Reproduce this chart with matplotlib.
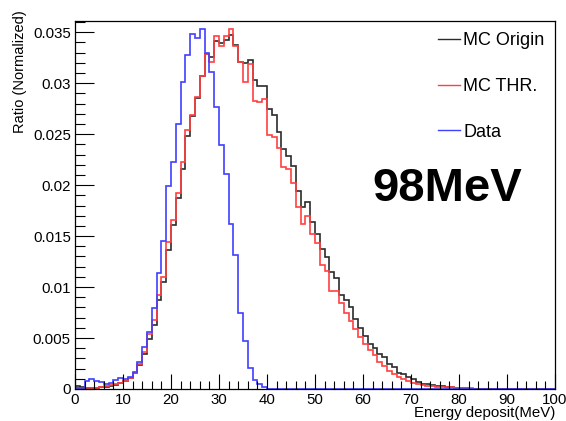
import matplotlib
matplotlib.use("Agg")
import matplotlib.pyplot as plt
import numpy as np

plt.rcParams['font.family'] = ['Liberation Sans', 'DejaVu Sans']

# bin edges: 100 bins of 1 MeV
edges = np.arange(0, 101, 1)

# values in units of 1e-3
mc_origin = [0.25, 0.2, 0.12, 0.1, 0.12, 0.15, 0.2, 0.3, 0.4, 0.55,
             0.75, 1.05, 1.6, 2.35, 3.4, 4.9, 6.3, 8.75, 10.5, 13.6,
             16.1, 18.7, 21.6, 24.8, 26.8, 28.5, 30.7, 32.9, 32.6, 34.1,
             33.9, 34.2, 34.7, 33.7, 32.1, 32.0, 32.3, 30.3, 29.7, 29.7,
             27.5, 26.9, 25.2, 23.5, 22.9, 21.9, 19.4, 17.9, 18.3, 16.4,
             15.2, 13.7, 12.9, 11.5, 10.9, 9.2, 8.75, 8.0, 6.9, 6.0,
             5.2, 4.4, 4.0, 3.4, 3.1, 2.5, 2.2, 1.6, 1.5, 1.2,
             1.0, 0.65, 0.5, 0.45, 0.35, 0.3, 0.3, 0.2, 0.15, 0.1,
             0.08, 0.05, 0, 0, 0, 0, 0, 0, 0, 0,
             0, 0, 0, 0, 0, 0, 0, 0, 0, 0]

mc_thr = [0.05, 0.05, 0.08, 0.1, 0.12, 0.2, 0.25, 0.35, 0.45, 0.6,
          0.8, 1.1, 1.6, 2.45, 3.6, 5.4, 6.8, 9.2, 11.0, 14.4,
          16.6, 19.2, 22.3, 25.4, 26.9, 28.6, 30.7, 32.9, 32.1, 34.6,
          33.6, 34.6, 35.3, 33.6, 32.1, 30.1, 31.9, 28.3, 28.2, 28.4,
          24.9, 24.7, 23.6, 21.8, 21.6, 20.2, 17.9, 16.2, 17.0, 15.2,
          14.3, 12.2, 11.6, 9.6, 9.6, 8.4, 7.5, 6.7, 5.9, 5.1,
          4.4, 3.8, 3.3, 2.6, 2.3, 1.8, 1.5, 1.2, 1.0, 0.8,
          0.6, 0.5, 0.4, 0.3, 0.25, 0.2, 0.2, 0.15, 0.15, 0.1,
          0.1, 0.1, 0.08, 0, 0, 0, 0, 0, 0, 0,
          0, 0, 0, 0, 0, 0, 0, 0, 0, 0]

data = [0.1, 0.1, 0.8, 1.0, 0.75, 0.65, 0.5, 0.6, 0.85, 1.1,
        0.95, 1.15, 1.7, 2.6, 4.1, 5.6, 7.9, 11.4, 14.5, 19.9,
        22.3, 26.0, 30.1, 32.8, 34.8, 34.4, 35.3, 33.0, 31.1, 27.7,
        23.9, 21.1, 16.2, 13.1, 7.5, 4.75, 2.1, 0.9, 0.5, 0.15] + [0] * 60

scale = 1e-3

fig = plt.figure(figsize=(5.66, 4.21), dpi=100)
ax = fig.add_axes([75 / 566, 1 - 389 / 421, 480 / 566, 368 / 421])

ax.stairs(np.array(mc_origin) * scale, edges, color='#2b2b2b', lw=1.2, baseline=None)
ax.stairs(np.array(mc_thr) * scale, edges, color='#ff4040', lw=1.2, baseline=None)
ax.stairs(np.array(data) * scale, edges, color='#4040ff', lw=1.2, baseline=None)

ax.set_xlim(0, 100)
ax.set_ylim(0, 0.0361)

ax.set_xticks(np.arange(0, 101, 10))
ax.set_xticks(np.arange(0, 101, 2), minor=True)
yt = np.arange(0, 0.0351, 0.005)
ax.set_yticks(yt)
ax.set_yticklabels(['%g' % round(v, 3) for v in yt])
ax.set_yticks(np.arange(0, 0.0361, 0.001), minor=True)

ax.tick_params(axis='both', which='both', direction='in', top=False, right=False,
               labelsize=10.8, width=0.8)
ax.tick_params(axis='x', which='major', length=11, pad=3)
ax.tick_params(axis='x', which='minor', length=5.5)
ax.tick_params(axis='y', which='major', length=14, pad=3)
ax.tick_params(axis='y', which='minor', length=7)
for s in ax.spines.values():
    s.set_linewidth(0.9)

ax.set_xlabel('Energy deposit(MeV)', fontsize=10.8, loc='right', labelpad=-1)
ax.set_ylabel('Ratio (Normalized)', fontsize=10.5, loc='top')
ax.yaxis.set_label_coords(-0.1, 1.03)

ax.text(372 / 566, 1 - 201 / 421, '98MeV', transform=fig.transFigure,
        fontsize=34, fontweight='bold', ha='left', va='baseline')

h1, = ax.plot([], [], color='#2b2b2b', lw=1)
h2, = ax.plot([], [], color='#ff4040', lw=1)
h3, = ax.plot([], [], color='#4040ff', lw=1)
fig.legend([h1, h2, h3], ['MC Origin', 'MC THR.', 'Data'], loc='upper left',
           bbox_to_anchor=(438 / 566, 1 - 32 / 421), frameon=False, fontsize=13,
           handlelength=1.2, handletextpad=0.2, labelspacing=1.6, borderpad=0,
           borderaxespad=0)

fig.savefig('out.png', dpi=100)
